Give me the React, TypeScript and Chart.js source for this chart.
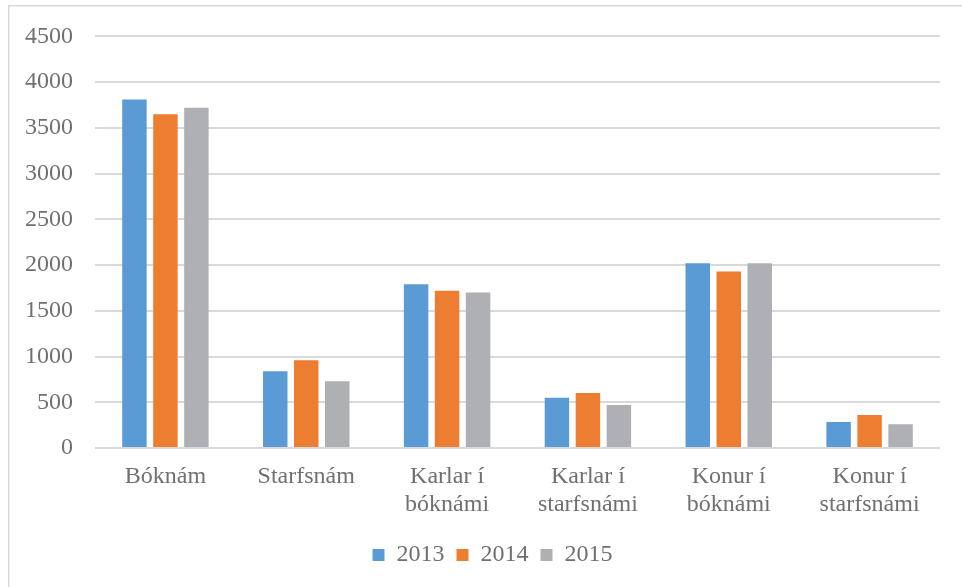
import React, { useEffect, useRef } from "react";
import { Chart, registerables } from "chart.js";

Chart.register(...registerables);

const categories: (string | string[])[] = [
  "Bóknám",
  "Starfsnám",
  ["Karlar í", "bóknámi"],
  ["Karlar í", "starfsnámi"],
  ["Konur í", "bóknámi"],
  ["Konur í", "starfsnámi"],
];
const seriesLabels = ["2013", "2014", "2015"];
const values2013 = [3810, 840, 1790, 550, 2020, 285];
const values2014 = [3650, 960, 1720, 600, 1930, 360];
const values2015 = [3720, 730, 1700, 470, 2020, 260];
const seriesColors = ["#5B9BD5", "#ED7D31", "#AFB0B4"];
const yMin = 0;
const yMax = 4500;
const yStep = 500;

const FONT = "'Liberation Serif', 'Times New Roman', serif";
const TEXT = "#707070";

const frame = {
  id: "frame",
  beforeDraw(chart: any) {
    const ctx = chart.ctx;
    ctx.save();
    ctx.fillStyle = "#ffffff";
    ctx.fillRect(0, 0, chart.width, chart.height);
    ctx.strokeStyle = "#d9d9d9";
    ctx.lineWidth = 1.5;
    ctx.strokeRect(8.75, 5.75, chart.width + 20, chart.height + 20);
    ctx.restore();
  },
};

export default function App() {
  const ref = useRef<HTMLCanvasElement | null>(null);
  useEffect(() => {
    if (!ref.current) return;
    const chart = new Chart(ref.current, {
      type: "bar",
      data: {
        labels: categories,
        datasets: [values2013, values2014, values2015].map((d, i) => ({
          label: seriesLabels[i],
          data: d,
          backgroundColor: seriesColors[i],
          borderWidth: 0,
          barPercentage: 0.79,
          categoryPercentage: 0.66,
        })),
      },
      options: {
        animation: false,
        responsive: false,
        maintainAspectRatio: false,
        devicePixelRatio: 1,
        layout: { padding: { top: 35, right: 0, bottom: 10, left: 0 } },
        plugins: {
          tooltip: { enabled: false },
          legend: {
            position: "bottom",
            labels: {
              boxWidth: 12,
              boxHeight: 12,
              padding: 12,
              color: TEXT,
              font: { family: FONT, size: 24 },
            },
          },
        },
        scales: {
          x: {
            grid: { display: false },
            border: { display: false },
            ticks: {
              color: TEXT,
              font: { family: FONT, size: 24, lineHeight: 1.17 },
              padding: 7,
              maxRotation: 0,
              autoSkip: false,
            },
            afterFit(scale: any) {
              scale.height = 83;
            },
          },
          y: {
            min: yMin,
            max: yMax,
            border: { display: false },
            grid: { color: "#d9d9d9", lineWidth: 2, drawTicks: false },
            ticks: {
              stepSize: yStep,
              color: TEXT,
              font: { family: FONT, size: 24 },
              padding: 22,
              callback: (v: any) => String(v),
            },
            afterFit(scale: any) {
              scale.width = 95;
            },
          },
          yRight: {
            type: "linear",
            position: "right",
            min: 0,
            max: 1,
            border: { display: false },
            grid: { display: false, drawTicks: false },
            ticks: { display: false },
            afterFit(scale: any) {
              scale.width = 45;
            },
          },
        },
      },
      plugins: [frame],
    });
    return () => chart.destroy();
  }, []);
  return (
    <div
      style={{
        position: "absolute",
        left: 0,
        top: 0,
        width: 962,
        height: 587,
        overflow: "hidden",
        background: "#fff",
      }}
    >
      <canvas ref={ref} width={985} height={587} style={{ display: "block", width: 985, height: 587 }} />
    </div>
  );
}
